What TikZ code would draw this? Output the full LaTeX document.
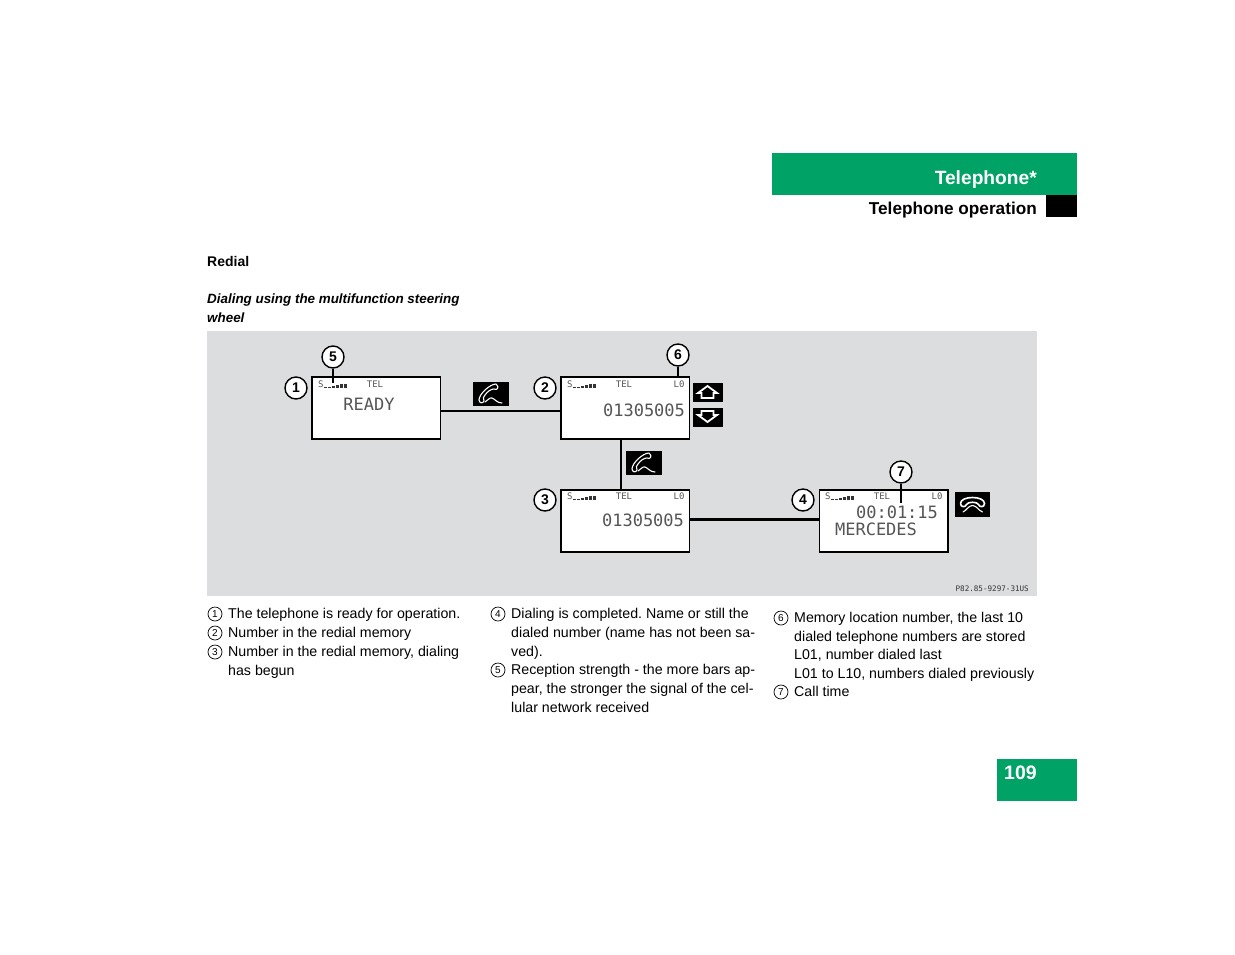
\documentclass[tikz,border=0pt]{standalone}
\usepackage{fontspec}
\setmainfont{Liberation Sans}
\newfontfamily\lcdfont{DejaVu Sans Mono}
\usepackage{xcolor}
\usetikzlibrary{positioning}
\definecolor{mbgreen}{HTML}{00A365}
\definecolor{panelgray}{HTML}{DCDDDF}
\definecolor{lcdgray}{HTML}{555555}
\frenchspacing
\tikzset{
  screen/.style={draw=black, line width=1.8pt, fill=white, minimum width=128.500pt, minimum height=62pt, inner sep=0pt},
  callout/.style={draw=black, line width=1.4pt, fill=white, circle, minimum size=22pt, inner sep=0pt, font=\fontsize{14}{14}\selectfont\bfseries},
  itemno/.style={draw=black, line width=0.7pt, circle, minimum size=14pt, inner sep=0pt, font=\fontsize{10}{10}\selectfont},
  itemtext/.style={anchor=north west, inner sep=0pt, align=left, font=\fontsize{14.2}{19}\selectfont},
  keybox/.style={fill=black, inner sep=0pt},
  lcdsmall/.style={inner sep=0pt, text=lcdgray, font=\lcdfont\fontsize{9}{9}\selectfont},
  lcdbig/.style={inner sep=0pt, text=lcdgray, font=\lcdfont\fontsize{17}{17}\selectfont},
  handset/.style={draw=white, line width=1.1pt, line join=round, line cap=round}
}
% signal bars beside the S of a screen
\newcommand{\sigbars}[1]{
  \foreach \x/\h in {0/1,4/1,8/2,12/3,16/4,20/4} {
    \fill[lcdgray!60!black] ([xshift=\x pt]#1) rectangle ++(3,-\h);
  }
}
% handset lifted, #1 is the middle of the black key
\newcommand{\liftphone}[1]{
  \begin{scope}[shift={(#1)}]
    \draw[handset] (5,-10) .. controls (-1,-10) and (-12,0) .. (-12,6) .. controls (-12,9) and (-8,10) .. (-7,7) .. controls (-8,4) and (-8,3) .. (-6,1) .. controls (-3,-3) and (0,-5) .. (3,-5) .. controls (6,-3) and (9,-7) .. (5,-10) -- cycle;
    \draw[handset] (-6,8) .. controls (-3,7) and (-2,3) .. (1,4) .. controls (4,5) and (6,9) .. (11,9);
  \end{scope}
}
% handset hung up, #1 is the middle of the black key
\newcommand{\hangphone}[1]{
  \begin{scope}[shift={(#1)}]
    \draw[handset, line width=1.6pt] (-12,-1) .. controls (-12,-9) and (12,-9) .. (12,-1) .. controls (12,3) and (7,3) .. (6,0) .. controls (5,-3) and (-5,-3) .. (-6,0) .. controls (-7,3) and (-12,3) .. (-12,-1) -- cycle;
    \draw[handset] (-9.500,7.500) .. controls (-6,6) and (-4,1) .. (0,1) .. controls (4,1) and (6,6) .. (10,7.500);
  \end{scope}
}
\begin{document}
\begin{tikzpicture}[x=1pt, y=-1pt]
\useasboundingbox (0,0) rectangle (1235,954);
\fill[white] (0,0) rectangle (1235,954);

% page furniture
\fill[mbgreen] (772,153) rectangle (1077,195);
\fill[black] (1046,195) rectangle (1077,217);
\fill[mbgreen] (997,759) rectangle (1077,801);
\node[anchor=east, inner sep=0pt, text=white, font=\fontsize{19.2}{19}\selectfont\bfseries] (chapter) at (1037,180) {Telephone*};
\node[anchor=east, inner sep=0pt, font=\fontsize{17.2}{17}\selectfont\bfseries] (section) at (1037,210) {Telephone operation};
\node[anchor=west, inner sep=0pt, text=white, font=\fontsize{19.5}{19}\selectfont\bfseries] (pageno) at (1004,773) {109};

\node[anchor=west, inner sep=0pt, font=\fontsize{14}{14}\selectfont\bfseries] (redial) at (207,261) {Redial};
\node[anchor=north west, inner sep=0pt, align=left, font=\fontsize{13.4}{19}\selectfont\bfseries\itshape] (dialing) at (207,294) {Dialing using the multifunction steering\\wheel};

% gray panel
\fill[panelgray] (207,331) rectangle (1037,596);

% screens
\node[screen, anchor=north west] (readyscr) at (311,376.300) {};
\node[screen, anchor=north west] (redialscr) at (560,376.300) {};
\node[screen, anchor=north west] (dialscr) at (560,488.900) {};
\node[screen, anchor=north west] (timescr) at (818.500,488.900) {};

% connectors
\draw[line width=2pt] (readyscr.east |- 0,411) -- (redialscr.west |- 0,411);
\draw[line width=2.5pt] (621,439) -- (621,489);
\draw[line width=3pt] (dialscr.east |- 0,519.500) -- (timescr.west |- 0,519.500);

% screen texts
\foreach \name/\xs/\ys/\xt/\xl in {a/318/384/375/0,b/567/384/624/679,c/567/496/624/679,d/825/496/882/937} {
  \node[lcdsmall, anchor=west] (s\name) at (\xs,\ys) {S};
  \node[lcdsmall] (tel\name) at (\xt,\ys) {TEL};
  \coordinate (bars\name) at (\xs+6,\ys+3.500);
  \sigbars{bars\name}
}
\node[lcdsmall] (lob) at (679,384) {L0};
\node[lcdsmall] (loc) at (679,496) {L0};
\node[lcdsmall] (lod) at (937,496) {L0};
\node[lcdbig] (ready) at (369,404) {READY};
\node[lcdbig] (numb) at (644,410) {01305005};
\node[lcdbig] (numc) at (643,520) {01305005};
\node[lcdbig] (clock) at (897,512) {00:01:15};
\node[lcdbig] (merc) at (876,529) {MERCEDES};

% callouts
\node[callout] (one) at (296,388) {1};
\node[callout] (two) at (545,388) {2};
\node[callout] (three) at (545,500) {3};
\node[callout] (four) at (803,500) {4};
\node[callout] (five) at (333,357) {5};
\node[callout] (six) at (678,355) {6};
\node[callout] (seven) at (901,472) {7};
\coordinate (fiveend) at (333,383);
\coordinate (sixend) at (678,377);
\coordinate (sevenend) at (901,503);
\draw[line width=1.2pt] (five) -- (fiveend);
\draw[line width=1.2pt] (six) -- (sixend);
\draw[line width=1.2pt] (seven) -- (sevenend);

% keys
\node[keybox, minimum width=36pt, minimum height=24pt] (liftone) at (491,394) {};
\node[keybox, minimum width=36pt, minimum height=24pt] (lifttwo) at (644,463) {};
\node[keybox, minimum width=35pt, minimum height=25pt] (hang) at (972.500,504.500) {};
\node[keybox, minimum width=30pt, minimum height=19pt] (upkey) at (708,392.500) {};
\node[keybox, minimum width=30pt, minimum height=19pt] (downkey) at (708,417.500) {};
\liftphone{liftone}
\liftphone{lifttwo}
\hangphone{hang}
\draw[draw=white, line width=1.8pt, line join=miter] (698,393) -- (707.500,386) -- (717,393) -- (713.500,393) -- (713.500,398) -- (701.500,398) -- (701.500,393) -- cycle;
\draw[draw=white, line width=1.8pt, line join=miter] (698,415) -- (707.500,422) -- (717,415) -- (713.500,415) -- (713.500,411) -- (701.500,411) -- (701.500,415) -- cycle;

\node[anchor=east, inner sep=0pt, text=black!80, font=\lcdfont\fontsize{7.6}{8}\selectfont] (partno) at (1029,588.500) {P82.85-9297-31US};

% legend
\foreach \nm/\n/\x/\y in {la/1/215/614,lb/2/215/633,lc/3/215/652,ld/4/498/614,le/5/498/670,lf/6/781/618,lg/7/781/692} {
  \node[itemno] (\nm) at (\x,\y) {\n};
}
\node[itemtext] (ta) at (228,608) {The telephone is ready for operation.};
\node[itemtext] (tb) at (228,627) {Number in the redial memory};
\node[itemtext] (tc) at (228,646) {Number in the redial memory, dialing\\has begun};
\node[itemtext] (td) at (511,608) {Dialing is completed. Name or still the\\dialed number (name has not been sa-\\ved).};
\node[itemtext] (te) at (511,664) {Reception strength - the more bars ap-\\pear, the stronger the signal of the cel-\\lular network received};
\node[itemtext, font=\fontsize{14.2}{18.700}\selectfont] (tf) at (794,612) {Memory location number, the last 10\\dialed telephone numbers are stored\\L01, number dialed last\\L01 to L10, numbers dialed previously};
\node[itemtext] (tg) at (794,686) {Call time};
\end{tikzpicture}
\end{document}
